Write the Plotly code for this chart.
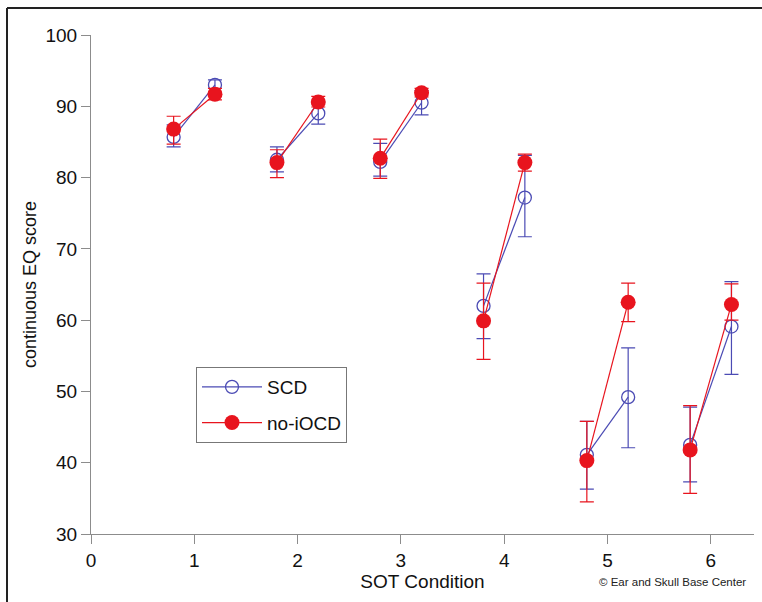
import plotly.graph_objects as go

# SOT conditions 1-6; each group has a left (x - 0.2) and right (x + 0.2) measurement
conditions = [1, 2, 3, 4, 5, 6]
offsets = [-0.2, 0.2]

# SCD group: mean scores, upper and lower error extents
scd_mean = [85.7, 93.0, 82.5, 89.0, 82.2, 90.5, 62.0, 77.2, 41.1, 49.2, 42.5, 59.1]
scd_err_plus = [1.7, 0.7, 1.8, 1.6, 2.6, 1.7, 4.5, 5.9, 4.7, 6.9, 5.3, 6.3]
scd_err_minus = [1.4, 1.2, 1.7, 1.5, 2.0, 1.7, 4.6, 5.5, 4.8, 7.1, 5.2, 6.7]

# no-iOCD group
nio_mean = [86.8, 91.7, 82.1, 90.6, 82.7, 91.9, 59.9, 82.1, 40.3, 62.5, 41.8, 62.2]
nio_err_plus = [1.8, 0.8, 1.8, 0.8, 2.7, 0.6, 5.3, 1.2, 5.5, 2.7, 6.2, 2.9]
nio_err_minus = [2.1, 0.8, 2.1, 0.7, 2.8, 0.6, 5.4, 1.2, 5.8, 2.7, 6.1, 2.2]

scd_color = "#4b4bb4"
nio_color = "#e8141e"
axis_gray = "#8c8c8c"
font_family = "Liberation Sans, Arial, Helvetica, sans-serif"

W, H = 762, 602
ML, MR, MT, MB = 91, 8, 35, 68


def group_x(c):
    return [c + o for o in offsets]


fig = go.Figure()


def add_series(name, means, ep, em, color, marker, group):
    for i, c in enumerate(conditions):
        sl = slice(2 * i, 2 * i + 2)
        fig.add_trace(go.Scatter(
            x=group_x(c), y=means[sl],
            mode="lines+markers",
            name=name, legendgroup=group, showlegend=(i == 0),
            line=dict(color=color, width=1.2),
            marker=marker,
            error_y=dict(type="data", symmetric=False,
                         array=ep[sl], arrayminus=em[sl],
                         color=color, thickness=1.2, width=7),
        ))


add_series("SCD", scd_mean, scd_err_plus, scd_err_minus, scd_color,
           dict(symbol="circle-open", size=13, color=scd_color, line=dict(width=1.3)),
           "scd")
add_series("no-iOCD", nio_mean, nio_err_plus, nio_err_minus, nio_color,
           dict(symbol="circle", size=15, color=nio_color),
           "nio")

plot_w = W - ML - MR
plot_h = H - MT - MB


def px_x(p):
    return (p - ML) / plot_w


def px_y(p):
    return (H - MB - p) / plot_h


# open frame around the figure (top and left edges)
frame = dict(color="#222222", width=2)
fig.add_shape(type="line", xref="paper", yref="paper",
              x0=px_x(7), x1=px_x(W + 2), y0=px_y(8), y1=px_y(8), line=frame)
fig.add_shape(type="line", xref="paper", yref="paper",
              x0=px_x(7), x1=px_x(7), y0=px_y(8), y1=px_y(H + 2), line=frame)

fig.add_annotation(text="© Ear and Skull Base Center", xref="paper", yref="paper",
                   x=px_x(748), y=px_y(582), xanchor="right", yanchor="middle",
                   showarrow=False, font=dict(size=11.5, color="#222222", family=font_family))

fig.update_layout(
    width=W, height=H,
    margin=dict(l=ML, r=MR, t=MT, b=MB),
    paper_bgcolor="white", plot_bgcolor="white",
    font=dict(family=font_family, color="#111111", size=19),
    showlegend=True,
    legend=dict(x=px_x(196), y=px_y(367), xanchor="left", yanchor="top",
                bgcolor="white", bordercolor="#777777", borderwidth=1,
                font=dict(size=19), tracegroupgap=8, traceorder="grouped",
                itemwidth=60),
    xaxis=dict(range=[0, (W - MR - ML) / 103.3], tickmode="array",
               tickvals=[0, 1, 2, 3, 4, 5, 6], ticktext=["0", "1", "2", "3", "4", "5", "6"],
               showgrid=False, zeroline=False, showline=True, linecolor=axis_gray, linewidth=1.2,
               ticks="outside", ticklen=9, tickcolor=axis_gray, tickwidth=1.2,
               tickfont=dict(size=19),
               title=dict(text="SOT Condition", standoff=4, font=dict(size=19))),
    yaxis=dict(range=[30, 100], tickmode="array",
               tickvals=[30, 40, 50, 60, 70, 80, 90, 100],
               showgrid=False, zeroline=False, showline=True, linecolor=axis_gray, linewidth=1.2,
               ticks="outside", ticklen=9, tickcolor=axis_gray, tickwidth=1.2,
               tickfont=dict(size=19),
               title=dict(text="continuous EQ score", standoff=4, font=dict(size=18))),
)

fig.write_html("out.html")
